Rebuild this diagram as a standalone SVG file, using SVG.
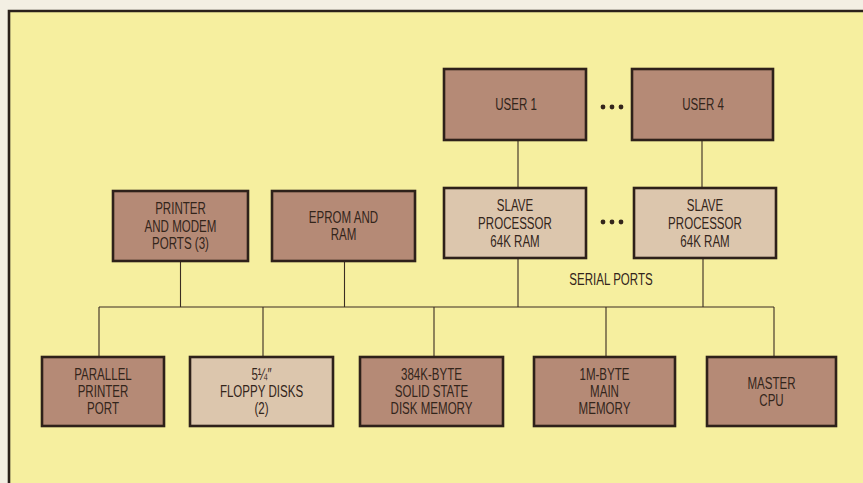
<svg xmlns="http://www.w3.org/2000/svg" width="863" height="483" viewBox="0 0 863 483">
<style>
.dk{fill:#b58a76;stroke:#2e211a;stroke-width:2.6}
.lt{fill:#dcc6ad;stroke:#2e211a;stroke-width:2.6}
.t{font-family:"Liberation Sans",Arial,sans-serif;font-size:16.5px;fill:#33251b;text-anchor:middle}
.c{stroke:#3a2d22;stroke-width:1.1;fill:none}
.d{fill:#33251b}
</style>
<rect x="0" y="0" width="863" height="483" fill="#f3efe3"/>
<rect x="9" y="11" width="860" height="480" fill="#f6ef9f"/>
<path d="M9 483 V11 H863" fill="none" stroke="#2a211b" stroke-width="2.6"/>
<g id="connectors" class="c">
<path d="M99 307 H774"/>
<path d="M180.5 261 V307 M344.5 261 V307 M518 258 V307 M703 258 V307"/>
<path d="M518 140 V188 M702 140 V188"/>
<path d="M99 307 V357 M263 307 V357 M434 307 V357 M606 307 V357 M774 307 V357"/>
</g>
<g id="dots1"><circle class="d" cx="603" cy="107" r="2.4"/><circle class="d" cx="612" cy="107" r="2.4"/><circle class="d" cx="621" cy="107" r="2.4"/></g>
<g id="dots2"><circle class="d" cx="603" cy="222" r="2.4"/><circle class="d" cx="612" cy="222" r="2.4"/><circle class="d" cx="621" cy="222" r="2.4"/></g>
<g id="user1"><rect class="dk" x="444" y="69" width="142" height="71"/><text class="t" transform="matrix(0.7 0 0 1 516 0)"><tspan x="0" y="110.5">USER 1</tspan></text></g>
<g id="user4"><rect class="dk" x="632" y="69" width="141" height="71"/><text class="t" transform="matrix(0.7 0 0 1 703 0)"><tspan x="0" y="110.5">USER 4</tspan></text></g>
<g id="printer"><rect class="dk" x="113" y="191" width="135" height="70"/><text class="t" transform="matrix(0.7 0 0 1 180.5 0)"><tspan x="0" y="214.5">PRINTER</tspan><tspan x="0" y="232">AND MODEM</tspan><tspan x="0" y="249.5">PORTS (3)</tspan></text></g>
<g id="eprom"><rect class="dk" x="272" y="191" width="143" height="70"/><text class="t" transform="matrix(0.7 0 0 1 343.5 0)"><tspan x="0" y="223">EPROM AND</tspan><tspan x="0" y="240.5">RAM</tspan></text></g>
<g id="slave1"><rect class="lt" x="444" y="188" width="142" height="70"/><text class="t" transform="matrix(0.7 0 0 1 515 0)"><tspan x="0" y="211">SLAVE</tspan><tspan x="0" y="229">PROCESSOR</tspan><tspan x="0" y="247">64K RAM</tspan></text></g>
<g id="slave2"><rect class="lt" x="634" y="188" width="142" height="70"/><text class="t" transform="matrix(0.7 0 0 1 705 0)"><tspan x="0" y="211">SLAVE</tspan><tspan x="0" y="229">PROCESSOR</tspan><tspan x="0" y="247">64K RAM</tspan></text></g>
<text class="t" transform="matrix(0.7 0 0 1 611 0)"><tspan x="0" y="285">SERIAL PORTS</tspan></text>
<g id="parallel"><rect class="dk" x="42" y="357" width="122" height="69"/><text class="t" transform="matrix(0.7 0 0 1 103 0)"><tspan x="0" y="380.5">PARALLEL</tspan><tspan x="0" y="397.5">PRINTER</tspan><tspan x="0" y="414.5">PORT</tspan></text></g>
<g id="floppy"><rect class="lt" x="190" y="357" width="143" height="69"/><text class="t" transform="matrix(0.7 0 0 1 261.5 0)"><tspan x="0" y="380.5">5¼″</tspan><tspan x="0" y="397.5">FLOPPY DISKS</tspan><tspan x="0" y="414.5">(2)</tspan></text></g>
<g id="ssd"><rect class="dk" x="360" y="357" width="143" height="69"/><text class="t" transform="matrix(0.7 0 0 1 431.5 0)"><tspan x="0" y="380.5">384K-BYTE</tspan><tspan x="0" y="397.5">SOLID STATE</tspan><tspan x="0" y="414.5">DISK MEMORY</tspan></text></g>
<g id="mainmem"><rect class="dk" x="534" y="357" width="141" height="69"/><text class="t" transform="matrix(0.7 0 0 1 604.5 0)"><tspan x="0" y="380.5">1M-BYTE</tspan><tspan x="0" y="397.5">MAIN</tspan><tspan x="0" y="414.5">MEMORY</tspan></text></g>
<g id="cpu"><rect class="dk" x="707" y="357" width="129" height="69"/><text class="t" transform="matrix(0.7 0 0 1 771.5 0)"><tspan x="0" y="389">MASTER</tspan><tspan x="0" y="406.5">CPU</tspan></text></g>
</svg>
